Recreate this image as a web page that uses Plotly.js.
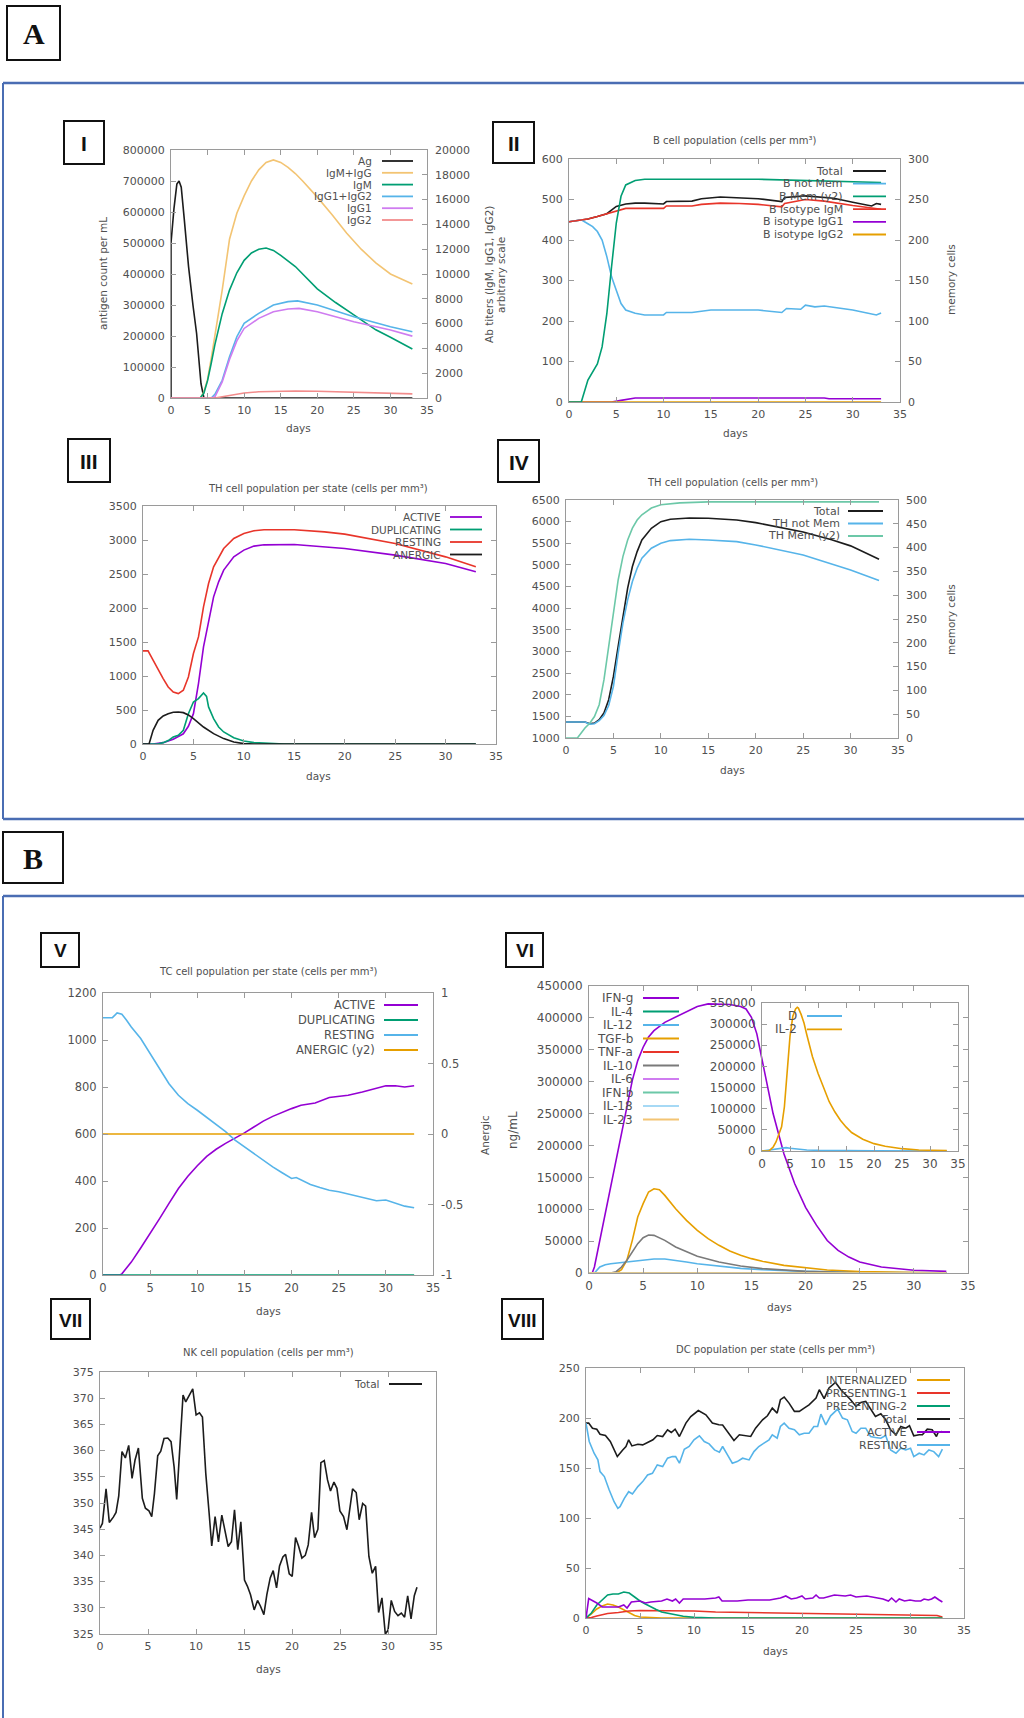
<!DOCTYPE html>
<html><head><meta charset="utf-8">
<script src="https://cdn.plot.ly/plotly-3.0.1.min.js"></script>
<style>html,body{margin:0;padding:0;background:#fff}#chart{width:1024px;height:1718px}</style>
</head><body><div id="chart"></div>
<script>
// ---------- DATA ----------
const days0 = [0, 33];
const zeros0 = [0, 0];
// Panel I
const agDays = [0, 0, 0.4, 0.8, 1.1, 1.4, 1.8, 2.4, 3.0, 3.5, 4.1, 4.5, 5, 33];
const agVals = [0, 500000, 610000, 690000, 700000, 680000, 580000, 424000, 300000, 208000, 46000, 0, 0, 0];
const igmiggDays = [0,4,4.5,5,5.5,6,7,8,9,10,11,12,13,14,15,16,17,18,20,22,24,26,28,30,33];
const igmiggVals = [0,0,500,1500,3200,5000,8700,12800,14900,16300,17500,18400,19000,19200,19000,18600,18100,17500,16200,14800,13300,12000,10900,10000,9200];
const igmDays = [0,4,4.5,5,5.5,6,7,8,9,10,11,12,13,14,15,17,20,22.5,25,28,30,33];
const igmVals = [0,0,400,1400,2800,4300,6800,8700,10100,11100,11700,12000,12100,11900,11500,10600,8800,7700,6700,5500,4900,3950];
const igg12Days = [0,5.5,6,7,8,9,10,12,14,16,17.3,20,25,30,33];
const igg12Vals = [0,0,300,1430,3320,4940,6020,6830,7500,7770,7830,7500,6560,5750,5340];
const igg1Days = [0,5.5,6,7,8,9,10,12,14,16,17.5,20,25,30,33];
const igg1Vals = [0,0,100,1300,3100,4600,5610,6420,6960,7180,7230,6960,6150,5480,4990];
const igg2Days = [0,6,8,10,12,15,17,20,25,30,33];
const igg2Vals = [0,0,200,400,500,560,570,540,460,380,330];
// Panel II
const bTotalDays = [0,1,2,3,4,5,6,7,8,10,10.3,13,14,16,18,20,22.5,22.8,25,26,28,30,32,32.5,33];
const bTotalVals = [445,448,452,458,465,483,489,491,491,489,495,496,502,506,504,502,495,505,509,507,503,493,484,490,488];
const bNotMemDays = [0,1.3,2,2.5,3,3.5,4,4.5,5,5.5,6,7,8,10,10.3,13,15,20,22.5,23,24.5,25,26,27,30,32.5,33];
const bNotMemVals = [445,450,440,433,421,400,359,309,276,243,227,219,215,215,221,221,227,227,221,231,229,239,235,237,227,215,220];
const bMemDays = [0,1.3,2,3,3.5,4,4.5,5,5.5,6,7,8,20,33];
const bMemVals = [0,0,27,47,68,109,167,221,254,268,273.5,275,275,271];
const bIgMDays = [0,1,2,3,4,5,6,8,10,10.3,13,14,16,18,20,22.5,22.8,25,27,30,32,33];
const bIgMVals = [445,448,452,458,465,472,478,478,478,484,484,488,491,490,488,482,490,500,496,485,478,476];
const bIgG1Days = [0,4.5,5.5,6.5,7,27,27.5,33];
const bIgG1Vals = [0,0,4,8,10,10,8,8];
// Panel III
const thActDays = [0,1,2,3,4,4.5,5,5.5,6,6.5,7,7.5,8,9,10,11,12,15,20,25,30,33];
const thActVals = [0,0,20,70,150,260,446,888,1428,1820,2164,2385,2557,2753,2851,2910,2929,2934,2876,2777,2655,2532];
const thDupDays = [0,1.5,2,2.5,3,3.5,4,4.5,5,5.5,6,6.3,6.5,7,7.5,8,9,10,11,12,14,33];
const thDupVals = [0,0,20,50,103,128,201,446,618,667,751,700,545,373,250,177,93,44,20,10,0,0];
const thRestDays = [0,0.5,1,1.5,2,2.5,3,3.5,4,4.5,5,5.5,6,6.5,7,8,9,10,11,12,15,18,20,25,28,30,33];
const thRestVals = [1370,1370,1232,1085,962,839,765,741,790,986,1330,1575,2017,2360,2605,2875,3023,3096,3135,3150,3150,3120,3086,2949,2826,2752,2605];
const thAnDays = [0,0.6,1,1.5,2,2.5,3,3.5,4,4.5,5,5.5,6,7,8,9,10,11,33];
const thAnVals = [0,0,201,348,412,446,466,471,461,427,373,309,250,152,79,29,5,0,0];
// Panel IV
const thTotDays = [0,2,2.5,3,3.5,4,4.5,5,5.5,6,6.5,7,7.5,8,9,10,11,13,15,18,20,25,28,30,33];
const thTotVals = [1370,1370,1331,1346,1423,1577,1885,2423,3115,3808,4462,4962,5308,5577,5846,6000,6054,6085,6077,6038,5977,5760,5580,5440,5130];
const thNotMemDays = [0,2,2.5,3,3.5,4,4.5,5,5.5,6,6.5,7,7.5,8,9,10,11,13,15,18,20,25,30,33];
const thNotMemVals = [1370,1370,1320,1330,1400,1520,1750,2192,2962,3654,4192,4615,4923,5154,5385,5500,5562,5592,5577,5538,5462,5231,4885,4638];
const thMemDays = [0,1.2,2,2.5,3,3.5,4,4.5,5,5.5,6,6.5,7,7.5,8,9,10,12,15,33];
const thMemVals = [0,0,21,31,45,70,122,192,269,332,381,416,441,458,469,483,490,494,496,496];
// Panel V
const tcActDays = [0,1.8,2,3,4,5,6,7,8,9,10,11,12,13,14,15,16,17,18,19,20,21,22.5,24,25,26,27.5,29,30,31,32,33];
const tcActVals = [0,0,5,55,115,175,240,305,368,420,465,505,535,560,582,605,630,655,675,692,708,722,732,755,760,765,779,793,805,805,800,805];
const tcRestDays = [0,1,1.5,2,2.5,3,4,5,6,7,8,9,10,11,12,13,14,15,16,17,18,19,20,20.5,21,22,23,24,25,26,27,28,29,30,31,32,33];
const tcRestVals = [1095,1095,1115,1110,1084,1055,1006,942,878,814,765,729,701,670,640,610,574,545,515,488,460,435,411,415,406,385,372,361,354,344,333,323,316,319,305,293,286];
// Panel VI
const ifngDays = [0,0.3,0.5,1,1.5,2,2.5,3,3.5,4,4.5,5,5.5,6,7,8,9,10,11,12,13,14,14.5,15,15.5,16,16.5,17,18,19,20,21,22,23,24,25,27,30,33];
const ifngVals = [0,0,9400,51200,98200,140000,181800,223600,265400,302000,333000,354000,370000,380000,393000,401000,409000,418000,422000,422000,421000,418000,414000,401000,375000,333000,291000,250000,187000,140000,103000,75000,51000,35500,25000,17200,9400,4200,2600];
const il12Days = [0,0.5,1,1.5,2,3,4,5,6,7,8,9,10,12,14,16,18,20,25,33];
const il12Vals = [0,0,9400,13000,14600,16200,18800,19900,21900,21900,19900,17200,14600,10400,7300,5200,3700,2600,1000,500];
const tgfbDays = [0,2.5,3,3.5,4,4.5,5,5.5,6,6.5,7,8,9,10,11,12,13,14,15,16,18,20,22,25,30,33];
const tgfbVals = [0,0,5200,19900,51200,87800,108700,127000,132000,130700,121700,100800,82500,66900,53800,43400,34500,27700,22500,18300,12000,7800,4700,2100,500,0];
const il10Days = [0,2,2.5,3,3.5,4,4.5,5,5.5,6,7,8,9,10,12,14,16,18,20,25,33];
const il10Vals = [0,0,2000,9400,19900,32900,46000,55400,59600,59000,51200,40800,32900,26100,17200,11000,6800,4200,2600,500,0];
const il2Days = [0,1.2,1.5,2,2.5,3,3.5,4,4.5,5,5.5,6,6.3,6.5,7,7.5,8,9,10,11,12,13,14,15,16,18,20,22,25,28,30,33];
const il2Vals = [0,0,3200,9500,21400,37200,57000,104600,191800,271000,318500,336000,340000,338000,322500,302700,275000,223500,183900,148200,116500,92700,72900,57000,43600,27700,17400,11100,5500,2400,1600,800];
const dDays = [0,1,2,3,4.3,5,6,8,10,15,20,33];
const dVals = [0,2000,4500,7000,8000,6500,4800,2500,1500,500,200,0];
// Panel VII
const nkDays = [0,0.25,0.63,0.97,1.39,1.67,1.95,2.29,2.64,2.99,3.34,3.65,4.0,4.41,4.73,5.1,5.39,5.67,6.01,6.33,6.67,7.06,7.4,7.72,7.99,8.34,8.65,8.93,9.28,9.66,10.01,10.36,10.67,11.02,11.37,11.64,11.99,12.34,12.69,13.03,13.35,13.69,14.01,14.35,14.67,15.05,15.36,15.68,16.06,16.41,16.72,17.07,17.38,17.73,18.04,18.39,18.7,19.05,19.33,19.71,20.02,20.37,20.68,21.03,21.38,21.69,22.04,22.35,22.7,23.01,23.36,23.7,24.01,24.37,24.68,24.99,25.37,25.72,26.0,26.31,26.69,27.0,27.36,27.67,28.01,28.36,28.71,29.02,29.37,29.72,30.0,30.34,30.69,31.04,31.39,31.73,32.05,32.4,32.74,33.02];
const nkVals = [345.2,346.1,352.7,346.3,347.3,348.2,351.3,359.8,358.6,361.0,354.7,358.2,360.5,350.9,349.0,348.5,347.4,351.8,359.0,359.9,362.3,362.4,361.7,356.9,350.7,362.6,370.6,369.3,370.6,371.8,366.8,367.2,366.4,355.6,348.0,341.8,347.4,342.6,347.7,344.9,341.7,342.6,348.7,341.1,346.4,335.3,334.1,332.5,329.6,331.4,330.3,328.7,332.5,335.7,337.1,333.8,338.0,339.7,340.2,336.5,336.0,343.4,341.8,339.5,340.0,342.0,348.2,343.4,345.0,357.7,358.1,354.4,352.3,354.0,352.8,348.5,347.4,344.9,348.7,352.7,352.0,346.8,349.9,349.4,339.8,336.6,337.9,329.1,331.9,325.0,325.7,331.4,329.3,328.5,329.0,328.2,332.3,327.9,332.3,333.9];
// Panel VIII
const dcIntDays = [0,0.5,1,1.5,2,2.5,3,3.5,4,4.5,5,6,7,33];
const dcIntVals = [0,4,9,12,14,13,11,8,5,2.5,1,0.3,0,0];
const dcP1Days = [0,0.5,1,1.5,2,3,3.5,4,5,6,10,12,15,20,25,28,30,32.5,33];
const dcP1Vals = [0,0.5,2,3.5,4.5,5.5,6.5,7,7.5,7.5,7,6,5.5,4.5,4,3,3,2.5,1];
const dcP2Days = [0,0.5,1,1.5,2,2.5,3,3.5,4,4.5,5,5.5,6,6.5,7,8,9,10,11,12,33];
const dcP2Vals = [0,5,13,18,23,24,24,26,25,21,17,14,11,8.5,6,3.5,1.7,0.7,0.2,0,0];
const dcTotDays = [0,0.25,0.6,1,1.3,1.8,2.25,2.6,2.9,3.4,3.7,3.95,4.25,4.8,5.25,5.7,6.2,6.6,7.1,7.55,7.9,8.25,8.65,9.25,9.7,10.4,11.1,11.7,12.3,12.65,13.1,13.4,13.7,14.2,14.8,15.25,15.7,16.35,16.8,17.25,17.7,18,18.35,18.8,19.3,19.75,20.2,20.65,21.3,21.6,22.05,22.5,23.1,23.6,24.05,24.5,25,25.45,25.9,26.35,26.8,27.3,27.75,28.2,28.7,29.15,29.6,29.95,30.35,30.85,31.15,31.6,32.05,32.45,32.6,32.95];
const dcTotVals = [194.9,195,189.8,188.8,183.8,182.5,176.5,168,161.4,168,171.5,178.2,172.1,173.8,173.1,175.5,178.2,182.5,181.5,188.2,185.5,188.8,181.5,194.9,201.5,207.5,203.2,194.9,193.2,193,186.5,181.5,177.5,183.2,182.2,181.5,189.8,198.2,202.2,209.9,204.9,218.3,220.9,214.9,206.6,206.6,209.9,213.2,219.9,228.3,219.3,230,235.6,228.3,223.3,218.3,211.6,215.6,216.6,208.9,201.5,204.2,198.2,188.2,183.2,191.5,189.8,192.2,182.2,183.2,183.2,188.8,188.2,181.5,185.5,186.5];
const dcActDays = [0,0.25,1,1.5,2,3,3.5,3.8,4.2,5,5.5,6,7,7.5,8,8.3,8.65,9,10,11,12,12.3,12.6,13,14,15,16,17,18,18.5,19,19.5,20,20.3,21,21.3,21.6,22,23,24,24.5,25,26,27,27.5,28,28.3,28.7,29,29.5,30,30.5,31,31.3,31.7,32,32.3,32.7,33];
const dcActVals = [0,19.4,15,11,11,11,13,10,16,17,15,16,17,19,17,19,15,19,19,19,20,21,17,17,17,18,18,18,20,22,19,20,22,19,20,23,20,20,23,22,23,21,22,20,19,17,20,16,19,17,18,17,17,19,18,19,21,18,16];
const dcRestDays = [0,0.3,0.75,1.1,1.3,1.7,2.15,2.6,2.95,3.15,3.55,3.95,4.3,4.8,5.25,5.7,6.15,6.6,7.1,7.55,8,8.3,8.65,9.1,9.55,10,10.5,10.95,11.4,11.9,12.35,12.65,13.1,13.55,14,14.5,15.1,15.55,16,16.5,16.95,17.25,17.7,18,18.35,18.8,19.3,19.75,20.2,20.65,21.1,21.45,21.75,22.2,22.65,23.3,23.75,24.2,24.65,25,25.45,25.9,26.35,26.8,27.3,27.75,28.2,28.7,29.15,29.6,30.05,30.35,30.85,31.3,31.75,32.2,32.65,33];
const dcRestVals = [194.9,176.5,164.8,158.1,146.4,141.4,128,116.3,109.6,111.3,119.7,126.3,124,131.4,136.4,143,144.7,153.1,151.4,159.8,161.4,161.4,154.8,168.8,171.5,178.2,182.2,176.5,174.1,168.1,165.8,171.5,163.1,154.8,156.4,159.8,158.1,166.4,171.5,174.8,178.2,183.2,179.8,191.5,194.9,189.8,188.2,183.2,184.8,184.8,191.5,191.5,203.9,193.2,202.2,208.9,199.9,198.2,186.5,184.8,189.8,189.8,181.5,180.5,179.8,182.5,168.1,164.8,169.8,168.1,169.8,161.4,164.8,163.1,168.1,166.4,161.4,168.8];

// legend names
const legI = ['Ag','IgM+IgG','IgM','IgG1+IgG2','IgG1','IgG2'];
const legII = ['Total','B not Mem','B Mem (y2)','B isotype IgM','B isotype IgG1','B isotype IgG2'];
const legIII = ['ACTIVE','DUPLICATING','RESTING','ANERGIC'];
const legIV = ['Total','TH not Mem','TH Mem (y2)'];
const legV = ['ACTIVE','DUPLICATING','RESTING','ANERGIC (y2)'];
const legVI = ['IFN-g','IL-4','IL-12','TGF-b','TNF-a','IL-10','IL-6','IFN-b','IL-18','IL-23'];
const legInset = ['D','IL-2'];
const legVII = ['Total'];
const legVIII = ['INTERNALIZED','PRESENTING-1','PRESENTING-2','Total','ACTIVE','RESTING'];

// ---------- STYLE / LAYOUT ----------
const W = 1024, H = 1718;
const fx = v => v / W, fy = v => 1 - v / H;
const FONT = '"DejaVu Sans", Verdana, sans-serif';
const TXT = '#505050', AXC = '#9a9a9a';
const C = {k:'#1c1c1c', pu:'#9400d3', gr:'#009e73', bl:'#56b4e9', or:'#e69f00', rd:'#e8352a',
  lor:'#f3c473', lpu:'#cf7cf0', lrd:'#f28c8c', lgr:'#6cc8a8', lbl:'#a6d9f5', gy:'#7a7a7a'};
const traces = [], shapes = [], annotations = [];
const layout = {width:W, height:H, margin:{l:0,r:0,t:0,b:0}, paper_bgcolor:'#fff', plot_bgcolor:'rgba(0,0,0,0)',
  showlegend:false, shapes, annotations};
const axName = id => id.replace(/^x/, 'xaxis').replace(/^y/, 'yaxis');
const common = {showline:true, linecolor:AXC, linewidth:1, ticks:'inside', ticklen:5, tickcolor:AXC, tickwidth:1,
  showgrid:false, zeroline:false, tickformat:'d', fixedrange:true};

function panel(o) {
  const tf = {family:FONT, size:o.fs || 11, color:TXT};
  layout[axName(o.xa)] = Object.assign({}, common, {domain:[fx(o.box[0]), fx(o.box[2])], anchor:o.ya, range:[0,35],
    tick0:0, dtick:5, mirror:'ticks', tickfont:tf, ticklabelstandoff:2});
  layout[axName(o.ya)] = Object.assign({}, common, {domain:[fy(o.box[3]), fy(o.box[1])], anchor:o.xa, range:o.yr,
    tick0:o.yr[0], dtick:o.ydt, mirror:o.ya2 ? true : 'ticks', tickfont:tf, ticklabelstandoff:3});
  if (o.ya2) {
    const a = Object.assign({}, common, {overlaying:o.ya, side:'right', anchor:o.xa, range:o.y2r, showline:false,
      tickfont:tf, ticklabelstandoff:7});
    if (o.y2vals) { a.tickmode = 'array'; a.tickvals = o.y2vals; a.ticktext = o.y2text; delete a.tickformat; }
    else { a.tick0 = o.y2r[0]; a.dtick = o.y2dt; }
    layout[axName(o.ya2)] = a;
  }
}
function line(xs, ys, color, xa, ya, w) {
  traces.push({type:'scatter', mode:'lines', x:xs, y:ys, line:{color:color, width:w || 1.6}, xaxis:xa, yaxis:ya, hoverinfo:'skip'});
}
function text(t, x, y, size, opts) {
  annotations.push(Object.assign({text:t, x:fx(x), y:fy(y), xref:'paper', yref:'paper', showarrow:false,
    xanchor:'center', yanchor:'middle', font:{family:FONT, size:size, color:TXT}}, opts || {}));
}
function seg(x0, y0, x1, y1, color, w) {
  shapes.push({type:'line', xref:'paper', yref:'paper', x0:fx(x0), y0:fy(y0), x1:fx(x1), y1:fy(y1), line:{color:color, width:w}});
}
function legend(names, colors, tr, l0, l1, y0, dy, size) {
  names.forEach((n, i) => {
    const y = y0 + i * dy;
    text(n, tr, y, size, {xanchor:'right'});
    seg(l0, y, l1, y, colors[i], 1.8);
  });
}
function labelBox(t, x0, y0, x1, y1, fam, size) {
  shapes.push({type:'rect', xref:'paper', yref:'paper', x0:fx(x0), y0:fy(y1), x1:fx(x1), y1:fy(y0), line:{color:'#111', width:2}, fillcolor:'rgba(0,0,0,0)'});
  annotations.push({text:t, x:fx((x0 + x1) / 2), y:fy((y0 + y1) / 2 + 1), xref:'paper', yref:'paper', showarrow:false,
    xanchor:'center', yanchor:'middle', font:{family:fam, size:size, color:'#111', weight:'bold'}});
}

// section frames
const BLUE = '#4a6db3';
seg(3, 83, 1024, 83, BLUE, 2.5); seg(3, 83, 3, 819, BLUE, 2); seg(3, 819, 1024, 819, BLUE, 2.5);
seg(3, 896, 1024, 896, BLUE, 2.5); seg(3, 896, 3, 1718, BLUE, 2);
const SERIF = '"Liberation Serif", "Times New Roman", serif';
const NARROW = '"Liberation Sans Narrow", "Liberation Sans", Arial, sans-serif';
labelBox('A', 7, 6, 60, 60, SERIF, 30);
labelBox('B', 3, 832, 63, 883, SERIF, 30);
labelBox('I', 64, 121, 104, 164, NARROW, 21);
labelBox('II', 493, 122, 534, 163, NARROW, 21);
labelBox('III', 68, 439, 110, 482, NARROW, 21);
labelBox('IV', 498, 440, 539, 482, NARROW, 21);
labelBox('V', 41, 933, 79, 967, NARROW, 19);
labelBox('VI', 506, 933, 543, 967, NARROW, 19);
labelBox('VII', 51, 1299, 90, 1339, NARROW, 19);
labelBox('VIII', 502, 1299, 543, 1339, NARROW, 19);

// Panel I
panel({xa:'x', ya:'y', ya2:'y2', box:[171,150,427,398], yr:[0,800000], ydt:100000, y2r:[0,20000], y2dt:2000, fs:11});
line(agDays, agVals, C.k, 'x', 'y');
line(igmiggDays, igmiggVals, C.lor, 'x', 'y2');
line(igmDays, igmVals, C.gr, 'x', 'y2');
line(igg12Days, igg12Vals, C.bl, 'x', 'y2');
line(igg1Days, igg1Vals, C.lpu, 'x', 'y2');
line(igg2Days, igg2Vals, C.lrd, 'x', 'y2');
legend(legI, [C.k, C.lor, C.gr, C.bl, C.lpu, C.lrd], 374, 382, 413, 161, 11.8, 10.5);
text('antigen count per mL', 103, 274, 10.5, {textangle:-90});
text('Ab titers (IgM, IgG1, IgG2)', 489, 275, 10.5, {textangle:-90});
text('arbitrary scale', 501, 275, 10.5, {textangle:-90});
text('days', 298, 428, 10.5);

// Panel II
panel({xa:'x2', ya:'y3', ya2:'y4', box:[569,159,900,402], yr:[0,600], ydt:100, y2r:[0,300], y2dt:50, fs:11});
line(bTotalDays, bTotalVals, C.k, 'x2', 'y3');
line(bNotMemDays, bNotMemVals, C.bl, 'x2', 'y3');
line(bMemDays, bMemVals, C.gr, 'x2', 'y4');
line(bIgMDays, bIgMVals, C.rd, 'x2', 'y3');
line(bIgG1Days, bIgG1Vals, C.pu, 'x2', 'y3');
line(days0, zeros0, C.or, 'x2', 'y3');
legend(legII, [C.k, C.bl, C.gr, C.rd, C.pu, C.or], 845, 853, 886, 171, 12.7, 11);
text('B cell population (cells per mm³)', 735, 141, 10);
text('memory cells', 951, 280, 10.5, {textangle:-90});
text('days', 735, 433, 10.5);

// Panel III
panel({xa:'x3', ya:'y5', box:[143,506,496,744], yr:[0,3500], ydt:500, fs:11});
line(thActDays, thActVals, C.pu, 'x3', 'y5');
line(thDupDays, thDupVals, C.gr, 'x3', 'y5');
line(thRestDays, thRestVals, C.rd, 'x3', 'y5');
line(thAnDays, thAnVals, C.k, 'x3', 'y5');
legend(legIII, [C.pu, C.gr, C.rd, C.k], 443, 450, 482, 517, 12.5, 10.5);
text('TH cell population per state (cells per mm³)', 318, 488, 10);
text('days', 318, 776, 10.5);

// Panel IV
panel({xa:'x4', ya:'y6', ya2:'y7', box:[566,500,898,738], yr:[1000,6500], ydt:500, y2r:[0,500], y2dt:50, fs:11});
line(thTotDays, thTotVals, C.k, 'x4', 'y6');
line(thNotMemDays, thNotMemVals, C.bl, 'x4', 'y6');
line(thMemDays, thMemVals, C.lgr, 'x4', 'y7');
legend(legIV, [C.k, C.bl, C.lgr], 842, 848, 883, 511, 12.5, 11);
text('TH cell population (cells per mm³)', 732, 482, 10);
text('memory cells', 951, 620, 10.5, {textangle:-90});
text('days', 732, 770, 10.5);

// Panel V
panel({xa:'x5', ya:'y8', ya2:'y9', box:[103,993,433,1275], yr:[0,1200], ydt:200, y2r:[-1,1],
  y2vals:[-1,-0.5,0,0.5,1], y2text:['-1','-0.5','0','0.5','1'], fs:11.5});
line(tcActDays, tcActVals, C.pu, 'x5', 'y8');
line(days0, zeros0, C.gr, 'x5', 'y8');
line(tcRestDays, tcRestVals, C.bl, 'x5', 'y8');
line(days0, zeros0, C.or, 'x5', 'y9');
legend(legV, [C.pu, C.gr, C.bl, C.or], 377, 384, 418, 1005, 15, 11.5);
text('TC cell population per state (cells per mm³)', 268, 971, 10);
text('Anergic', 485, 1135, 10.5, {textangle:-90});
text('days', 268, 1311, 10.5);

// Panel VI
panel({xa:'x6', ya:'y10', box:[589,986,968,1273], yr:[0,450000], ydt:50000, fs:12});
panel({xa:'x7', ya:'y11', box:[762,1003,958,1151], yr:[0,350000], ydt:50000, fs:12});
line(ifngDays, ifngVals, C.pu, 'x6', 'y10');
line(days0, zeros0, C.gr, 'x6', 'y10');
line(il12Days, il12Vals, C.bl, 'x6', 'y10');
line(tgfbDays, tgfbVals, C.or, 'x6', 'y10');
line(days0, zeros0, C.rd, 'x6', 'y10');
line(il10Days, il10Vals, C.gy, 'x6', 'y10');
line(days0, zeros0, C.lpu, 'x6', 'y10');
line(days0, zeros0, C.lgr, 'x6', 'y10');
line(days0, zeros0, C.lbl, 'x6', 'y10');
line(days0, zeros0, C.lor, 'x6', 'y10');
line(dDays, dVals, C.bl, 'x7', 'y11');
line(il2Days, il2Vals, C.or, 'x7', 'y11');
legend(legVI, [C.pu, C.gr, C.bl, C.or, C.rd, C.gy, C.lpu, C.lgr, C.lbl, C.lor], 635, 643, 679, 998, 13.5, 12);
legend(legInset, [C.bl, C.or], 799, 807, 842, 1016, 13.3, 12);
text('ng/mL', 513, 1130, 12, {textangle:-90});
text('days', 779, 1307, 10.5);

// Panel VII
panel({xa:'x8', ya:'y12', ya2:'y13', box:[100,1372,436,1634], yr:[325,375], ydt:5, y2r:[325,375], y2dt:5, fs:11});
line(nkDays, nkVals, C.k, 'x8', 'y12');
legend(legVII, [C.k], 382, 389, 422, 1384, 0, 10.5);
text('NK cell population (cells per mm³)', 268, 1352, 10);
text('days', 268, 1669, 10.5);

// Panel VIII
panel({xa:'x9', ya:'y14', box:[586,1368,964,1618], yr:[0,250], ydt:50, fs:11});
line(dcIntDays, dcIntVals, C.or, 'x9', 'y14');
line(dcP1Days, dcP1Vals, C.rd, 'x9', 'y14');
line(dcP2Days, dcP2Vals, C.gr, 'x9', 'y14');
line(dcTotDays, dcTotVals, C.k, 'x9', 'y14');
line(dcActDays, dcActVals, C.pu, 'x9', 'y14');
line(dcRestDays, dcRestVals, C.bl, 'x9', 'y14');
legend(legVIII, [C.or, C.rd, C.gr, C.k, C.pu, C.bl], 909, 917, 950, 1380, 13, 11);
text('DC population per state (cells per mm³)', 775, 1349, 10);
text('days', 775, 1651, 10.5);

Plotly.newPlot('chart', traces, layout, {staticPlot:true, displayModeBar:false});
</script></body></html>
